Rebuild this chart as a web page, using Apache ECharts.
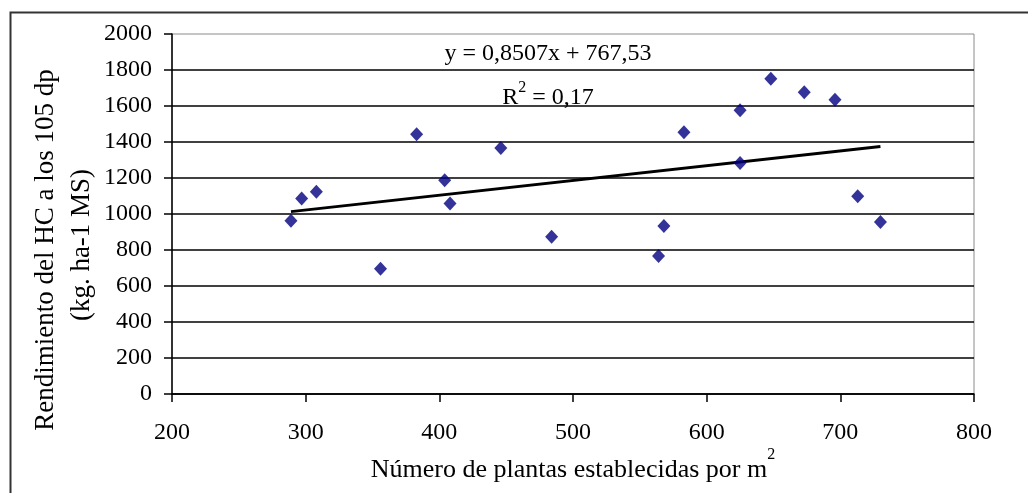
<!DOCTYPE html>
<html>
<head>
<meta charset="utf-8">
<script src="https://cdn.jsdelivr.net/npm/echarts@6/dist/echarts.min.js"></script>
<style>
html,body{margin:0;padding:0;background:#fff;}
#chart{width:1028px;height:493px;}
</style>
</head>
<body>
<div id="chart"></div>
<script>
// Data
const plantas = [289, 297, 308, 356, 383, 404, 408, 446, 484, 564, 568, 583, 625, 625, 648, 673, 696, 713, 730];
const rendimiento = [962, 1086, 1123, 696, 1443, 1188, 1059, 1367, 874, 767, 933, 1454, 1576, 1284, 1751, 1677, 1635, 1099, 955];
// Trendline end points (as drawn in the picture)
const trendX = [289, 730];
const trendY = [1013, 1375];
const xTicks = [200, 300, 400, 500, 600, 700, 800];
const yTicks = [0, 200, 400, 600, 800, 1000, 1200, 1400, 1600, 1800, 2000];
const eqText = 'y = 0,8507x + 767,53';
const r2Text = '0,17';
const xTitle = 'Número de plantas establecidas por m';
const yTitle1 = 'Rendimiento del HC a los 105 dp';
const yTitle2 = '(kg. ha-1 MS)';

const FONT = 'Liberation Serif';
const chart = echarts.init(document.getElementById('chart'), null, {renderer: 'canvas'});

const scatterData = plantas.map((x, i) => [x, rendimiento[i]]);
const trendData = trendX.map((x, i) => [x, trendY[i]]);

chart.setOption({
  animation: false,
  backgroundColor: '#fff',
  grid: {
    left: 172, top: 34, right: 54, bottom: 99,
    show: true, borderColor: '#8a8a8a', borderWidth: 1, backgroundColor: 'transparent'
  },
  xAxis: {
    type: 'value',
    min: xTicks[0], max: xTicks[xTicks.length - 1], interval: 100,
    axisLine: {show: true, onZero: false, lineStyle: {color: '#000', width: 1.5}},
    axisTick: {show: true, length: 8, lineStyle: {color: '#000', width: 1.5}},
    axisLabel: {margin: 27, color: '#000', fontFamily: FONT, fontSize: 24, formatter: v => String(v)},
    splitLine: {show: false}
  },
  yAxis: {
    type: 'value',
    min: yTicks[0], max: yTicks[yTicks.length - 1], interval: 200,
    axisLine: {show: true, onZero: false, lineStyle: {color: '#000', width: 1.5}},
    axisTick: {show: true, length: 8, lineStyle: {color: '#000', width: 1.5}},
    axisLabel: {margin: 20, color: '#000', fontFamily: FONT, fontSize: 24, formatter: v => String(v)},
    splitLine: {show: true, showMaxLine: false, lineStyle: {color: '#000', width: 1.6}}
  },
  series: [
    {
      type: 'line',
      data: trendData,
      symbol: 'none',
      lineStyle: {color: '#000', width: 2.8},
      z: 2
    },
    {
      type: 'scatter',
      data: scatterData,
      symbol: 'diamond',
      symbolSize: [13, 14],
      itemStyle: {color: '#000080'},
      z: 3
    }
  ],
  graphic: [
    {
      type: 'rect', silent: true, z: 0,
      shape: {x: 10.5, y: 12.5, width: 1200, height: 700},
      style: {fill: 'none', stroke: '#333', lineWidth: 2}
    },
    {
      type: 'text', silent: true, z: 10,
      x: 548, y: 54,
      style: {text: eqText, font: '24px "' + FONT + '"', fill: '#000', align: 'center', verticalAlign: 'middle'}
    },
    {
      type: 'text', silent: true, z: 10,
      x: 548, y: 95,
      style: {
        text: '{a|R}{s|2}{a| = ' + r2Text + '}',
        align: 'center', verticalAlign: 'middle',
        rich: {
          a: {fontFamily: FONT, fontSize: 24, fill: '#000', verticalAlign: 'bottom', lineHeight: 30},
          s: {fontFamily: FONT, fontSize: 16, fill: '#000', verticalAlign: 'top', lineHeight: 30}
        }
      }
    },
    {
      type: 'text', silent: true, z: 10,
      x: 573, y: 465,
      style: {
        text: '{a|' + xTitle + '}{s|2}',
        align: 'center', verticalAlign: 'middle',
        rich: {
          a: {fontFamily: FONT, fontSize: 26, fill: '#000', verticalAlign: 'bottom', lineHeight: 36},
          s: {fontFamily: FONT, fontSize: 16, fill: '#000', verticalAlign: 'top', lineHeight: 36}
        }
      }
    },
    {
      type: 'text', silent: true, z: 10,
      x: 46, y: 250, rotation: Math.PI / 2,
      style: {text: yTitle1, font: '27px "' + FONT + '"', fill: '#000', align: 'center', verticalAlign: 'middle'}
    },
    {
      type: 'text', silent: true, z: 10,
      x: 82, y: 245, rotation: Math.PI / 2,
      style: {text: yTitle2, font: '27px "' + FONT + '"', fill: '#000', align: 'center', verticalAlign: 'middle'}
    }
  ]
});
</script>
</body>
</html>
